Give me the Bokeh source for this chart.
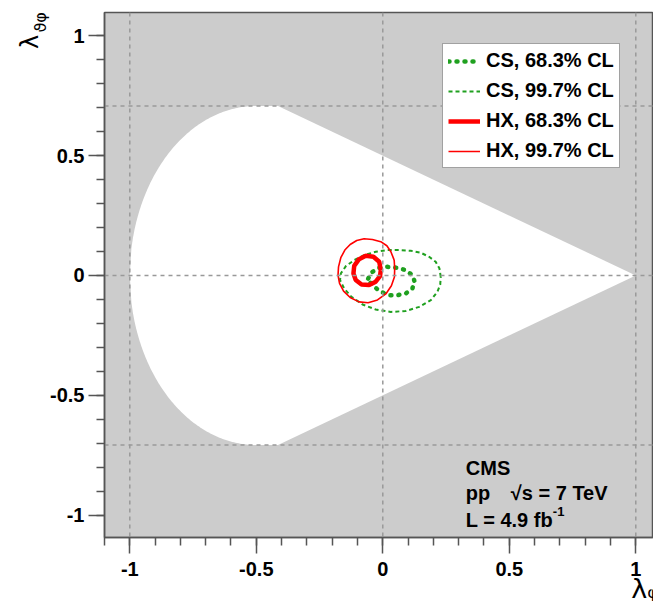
import numpy as np
from bokeh.plotting import figure
from bokeh.models import Span, Label, Legend, LegendItem, FixedTicker, PrintfTickFormatter
from bokeh.embed import file_html
from bokeh.resources import INLINE

# ---------------- data ----------------
x_ticks = [-1, -0.5, 0, 0.5, 1]
y_ticks = [-1, -0.5, 0, 0.5, 1]
minor_ticks = [round(-1.1 + 0.1 * i, 2) for i in range(23)]

legend_labels = ["CS, 68.3% CL", "CS, 99.7% CL", "HX, 68.3% CL", "HX, 99.7% CL"]

# CS frame, 68.3% CL contour
cs68_x = [-0.058, -0.041, -0.014, 0.018, 0.058, 0.091, 0.117, 0.126, 0.117, 0.091,
          0.058, 0.025, -0.008, -0.034, -0.054]
cs68_y = [-0.013, 0.015, 0.032, 0.036, 0.032, 0.022, 0.001, -0.026, -0.054, -0.075,
          -0.082, -0.082, -0.068, -0.047, -0.024]

# CS frame, 99.7% CL contour
cs997_x = [0.229, 0.224, 0.209, 0.183, 0.150, 0.111, 0.065, 0.018, -0.028, -0.074,
           -0.113, -0.146, -0.166, -0.169, -0.153, -0.124, -0.080, -0.028, 0.032, 0.091,
           0.144, 0.190, 0.216, 0.227]
cs997_y = [-0.006, 0.029, 0.057, 0.078, 0.095, 0.103, 0.106, 0.106, 0.099, 0.085,
           0.064, 0.039, 0.008, -0.019, -0.054, -0.089, -0.121, -0.142, -0.152, -0.148,
           -0.131, -0.103, -0.068, -0.038]

# HX frame, 68.3% CL contour
hx68_x = [-0.008, -0.014, -0.037, -0.067, -0.094, -0.113, -0.116, -0.107, -0.084, -0.054,
          -0.028, -0.011]
hx68_y = [0.022, 0.057, 0.078, 0.082, 0.068, 0.040, 0.008, -0.019, -0.038, -0.040,
          -0.026, -0.003]

# HX frame, 99.7% CL contour
hx997_x = [0.045, 0.032, 0.016, -0.008, -0.041, -0.074, -0.103, -0.129, -0.150, -0.166,
           -0.175, -0.177, -0.171, -0.155, -0.129, -0.094, -0.058, -0.021, 0.012, 0.034,
           0.046, 0.047]
hx997_y = [0.064, 0.099, 0.124, 0.141, 0.150, 0.153, 0.146, 0.129, 0.106, 0.074,
           0.036, 0.001, -0.033, -0.065, -0.092, -0.110, -0.114, -0.102, -0.077, -0.043,
           -0.006, 0.029]

# physically allowed region boundary (lambda_phi, lambda_theta-phi)
lam_phi_min = -1.0
lam_phi_knee = -0.5
lam_tp_max = np.sqrt(0.5)
lam_phi_max = 1.0

# ---------------- figure ----------------
FONT = "Liberation Sans"
GRAY = "#555555"

p = figure(width=653, height=608, x_range=(-1.1, 1.07), y_range=(-1.093, 1.097),
           output_backend="svg", toolbar_location=None,
           min_border_left=104, min_border_right=0, min_border_top=12, min_border_bottom=71)
p.background_fill_color = "#cccccc"
p.border_fill_color = "white"
p.grid.visible = False
p.outline_line_color = GRAY
p.outline_line_width = 1.5

for ax, ticks in ((p.xaxis[0], x_ticks), (p.yaxis[0], y_ticks)):
    ax.ticker = FixedTicker(ticks=ticks, minor_ticks=minor_ticks)
    ax.formatter = PrintfTickFormatter(format="%g")
    ax.axis_line_color = GRAY
    ax.axis_line_width = 1.5
    ax.major_tick_in = 0
    ax.major_tick_out = 16
    ax.minor_tick_in = 0
    ax.minor_tick_out = 8
    ax.major_tick_line_color = GRAY
    ax.minor_tick_line_color = GRAY
    ax.major_tick_line_width = 1.5
    ax.minor_tick_line_width = 1.5
    ax.major_label_text_font = FONT
    ax.major_label_text_font_style = "bold"
    ax.major_label_text_font_size = "20px"
    ax.major_label_text_color = "black"
p.xaxis.major_label_standoff = 8
p.yaxis.major_label_standoff = 4

# x-axis title at the right end of the axis
xax = p.xaxis[0]
xax.axis_label = "λᵩ\u00a0\u00a0"
xax.axis_label_text_font = "DejaVu Sans"
xax.axis_label_text_font_style = "normal"
xax.axis_label_text_font_size = "27px"
xax.axis_label_text_color = "black"
xax.axis_label_standoff = -6
try:
    xax.axis_label_align = "end"
except Exception:
    pass

# allowed region (white)
t = np.linspace(lam_phi_min, lam_phi_knee, 80)
u = -2 * t - 1
top_curve = np.sqrt((1 - u ** 2) / 2)
top_x = list(t) + [1 - np.sqrt(2), lam_phi_max]
top_y = list(top_curve) + [lam_tp_max, 0.0]
reg_x = top_x + top_x[-2::-1]
reg_y = top_y + [-v for v in top_y[-2::-1]]
p.patch(reg_x, reg_y, fill_color="white", line_color=None)

# dashed reference lines
for loc in (lam_phi_min, 0.0, lam_phi_max):
    s = Span(location=loc, dimension="height", line_color="#999999", line_width=1.5,
             line_dash="4 4", level="glyph")
    p.add_layout(s)
for loc in (-lam_tp_max, 0.0, lam_tp_max):
    s = Span(location=loc, dimension="width", line_color="#999999", line_width=1.5,
             line_dash="4 4", level="glyph")
    p.add_layout(s)

GREEN = "#1fa01f"
RED = "#ff0000"

def closed(a):
    return list(a) + [a[0]]

r_cs68 = p.line(closed(cs68_x), closed(cs68_y), line_color=GREEN, line_width=4.5,
                line_dash="1 7", line_cap="round")
r_cs997 = p.line(closed(cs997_x), closed(cs997_y), line_color=GREEN, line_width=2,
                 line_dash="4 3")
r_hx997 = p.line(closed(hx997_x), closed(hx997_y), line_color=RED, line_width=1.6)
r_hx68 = p.line(closed(hx68_x), closed(hx68_y), line_color=RED, line_width=4.5)

legend = Legend(items=[LegendItem(label=legend_labels[0], renderers=[r_cs68]),
                       LegendItem(label=legend_labels[1], renderers=[r_cs997]),
                       LegendItem(label=legend_labels[2], renderers=[r_hx68]),
                       LegendItem(label=legend_labels[3], renderers=[r_hx997])],
                location=(338, 369))
legend.background_fill_color = "white"
legend.background_fill_alpha = 1.0
legend.border_line_color = "#444444"
legend.border_line_width = 1.2
legend.label_text_font = FONT
legend.label_text_font_style = "bold"
legend.label_text_font_size = "20px"
legend.label_text_color = "black"
legend.glyph_width = 32
legend.glyph_height = 20
legend.label_height = 20
legend.label_standoff = 6
legend.spacing = 7
legend.padding = 5
legend.margin = 0
p.add_layout(legend, "center")

# CMS text block
txt = dict(text_font=FONT, text_font_style="bold", text_font_size="20px",
           text_color="black", text_baseline="alphabetic")
p.add_layout(Label(x=0.328, y=-0.805, text="CMS", **txt))
p.add_layout(Label(x=0.328, y=-0.909, text="pp", **txt))
p.add_layout(Label(x=0.506, y=-0.909, text="√s = 7 TeV", **txt))
p.add_layout(Label(x=0.328, y=-1.022, text="L = 4.9 fb", **txt))
p.add_layout(Label(x=0.672, y=-0.985, text="-1", text_font=FONT, text_font_style="bold",
                   text_font_size="13px", text_color="black", text_baseline="alphabetic"))

# y-axis title (side panel, so it is not clipped to the frame)
p.add_layout(Label(x=-1.395, y=0.974, text="λ", angle=np.pi / 2, text_font="DejaVu Sans",
                   text_font_size="24px", text_color="black", text_align="center",
                   text_baseline="middle"), "left")
p.add_layout(Label(x=-1.352, y=1.056, text="ϑφ", angle=np.pi / 2, text_font="DejaVu Sans",
                   text_font_size="16px", text_color="black", text_align="center",
                   text_baseline="middle"), "left")

open("out.html", "w").write(file_html(p, INLINE))
